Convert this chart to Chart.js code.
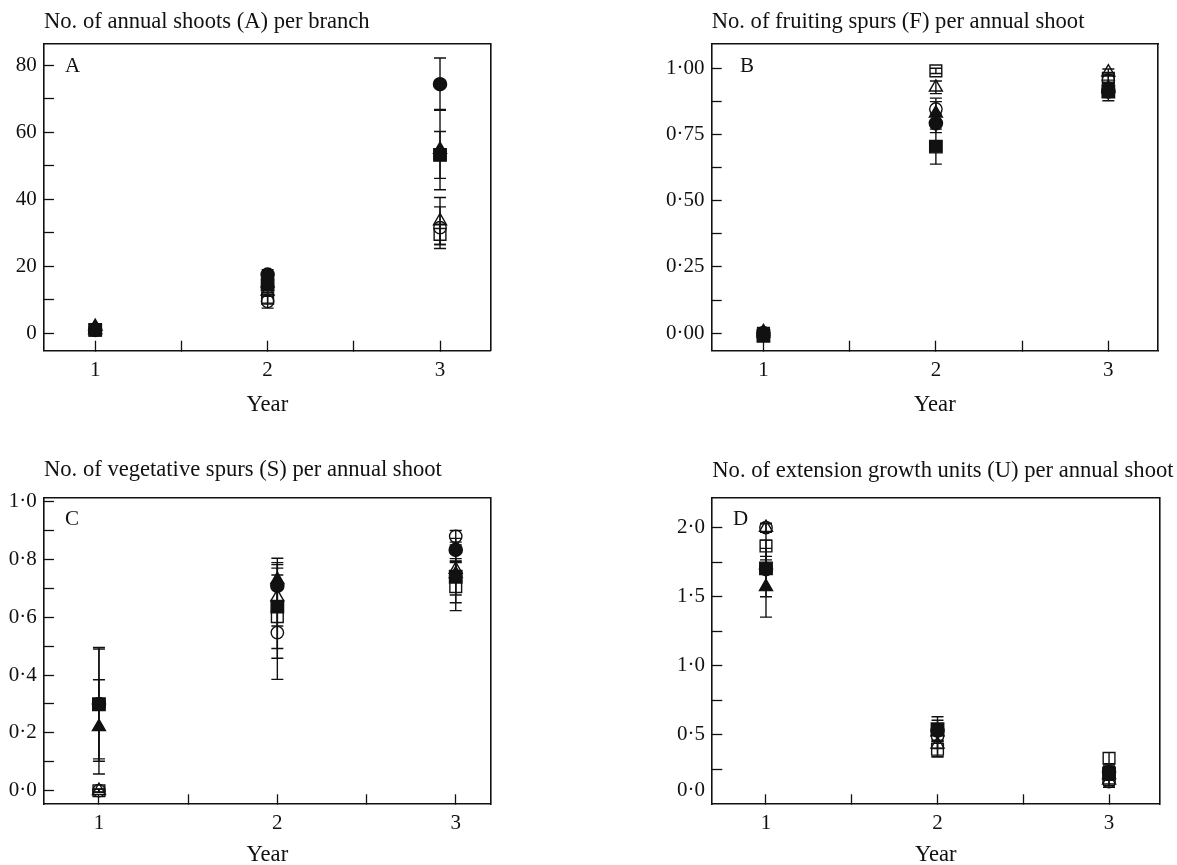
<!DOCTYPE html>
<html>
<head>
<meta charset="utf-8">
<script src="https://cdn.jsdelivr.net/npm/chart.js@4.4.1/dist/chart.umd.min.js"></script>
<style>
  html, body { margin: 0; padding: 0; background: #fff; overflow: hidden; }
  body { width: 1177px; height: 865px; position: relative; }
  .panel { position: absolute; }
  .letter { position: absolute; font-family: 'Liberation Serif', 'Times New Roman', serif;
            font-size: 21px; line-height: 24px; color: #111; }
</style>
</head>
<body>
<div class="panel" id="panelA"><canvas id="chartA"></canvas></div>
<div class="panel" id="panelB"><canvas id="chartB"></canvas></div>
<div class="panel" id="panelC"><canvas id="chartC"></canvas></div>
<div class="panel" id="panelD"><canvas id="chartD"></canvas></div>
<span class="letter" style="left:65px;top:53px">A</span>
<span class="letter" style="left:740px;top:53px">B</span>
<span class="letter" style="left:65px;top:506px">C</span>
<span class="letter" style="left:733px;top:506px">D</span>
<script>
const years = [1, 2, 3];
const xTicks = [1, 1.5, 2, 2.5, 3];
const xTickLabels = ['1', '', '2', '', '3'];

// rows: open square, open circle, open triangle, filled triangle, filled circle, filled square
const shootsMean = [
  [1, 10.5, 29.5],
  [1, 9.5, 31.5],
  [1, 12.5, 33.5],
  [2, 15, 54.8],
  [1, 17.5, 74.3],
  [1, 14.5, 53.2]
];
const shootsSE = [
  [0.3, 1.5, 3],
  [0.3, 2, 6.2],
  [0.3, 1.5, 7],
  [0.4, 2, 12],
  [0.3, 1.5, 7.8],
  [0.3, 1.5, 7]
];
const yTicksShoots = [0, 10, 20, 30, 40, 50, 60, 70, 80];
const yLabelsShoots = ['0', '', '20', '', '40', '', '60', '', '80'];

const fruitingMean = [
  [0, 0.99, 0.962],
  [0, 0.846, 0.955],
  [0, 0.928, 0.985],
  [0.005, 0.83, 0.925],
  [0, 0.792, 0.912],
  [-0.01, 0.704, 0.912]
];
const fruitingSE = [
  [0.005, 0.01, 0.02],
  [0.005, 0.041, 0.02],
  [0.005, 0.024, 0.012],
  [0.005, 0.044, 0.03],
  [0.005, 0.035, 0.035],
  [0.005, 0.066, 0.02]
];
const yTicksFruiting = [0, 0.125, 0.25, 0.375, 0.5, 0.625, 0.75, 0.875, 1];
const yLabelsFruiting = ['0·00', '', '0·25', '', '0·50', '', '0·75', '', '1·00'];

const vegetativeMean = [
  [0, 0.602, 0.706],
  [0, 0.547, 0.88],
  [0, 0.67, 0.765],
  [0.221, 0.73, 0.75],
  [0.3, 0.709, 0.833],
  [0.299, 0.637, 0.74]
];
const vegetativeSE = [
  [0.005, 0.144, 0.083],
  [0.005, 0.162, 0.02],
  [0.005, 0.1, 0.03],
  [0.163, 0.074, 0.1],
  [0.19, 0.08, 0.04],
  [0.197, 0.145, 0.063]
];
const yTicksVegetative = [0, 0.1, 0.2, 0.3, 0.4, 0.5, 0.6, 0.7, 0.8, 0.9, 1];
const yLabelsVegetative = ['0·0', '', '0·2', '', '0·4', '', '0·6', '', '0·8', '', '1·0'];

const unitsMean = [
  [1.867, 0.395, 0.33],
  [2, 0.49, 0.16],
  [2, 0.43, 0.17],
  [1.572, 0.52, 0.21],
  [1.7, 0.53, 0.23],
  [1.705, 0.54, 0.22]
];
const unitsSE = [
  [0.1, 0.055, 0.04],
  [0.03, 0.09, 0.04],
  [0.03, 0.09, 0.04],
  [0.22, 0.06, 0.04],
  [0.15, 0.075, 0.05],
  [0.205, 0.09, 0.05]
];
// the "0·0" label sits a little above the axis floor in the original, without a tick mark
const yTicksUnits = [0.094, 0.25, 0.5, 0.75, 1, 1.25, 1.5, 1.75, 2];
const yLabelsUnits = ['0·0', '', '0·5', '', '1·0', '', '1·5', '', '2·0'];
const yUnmarkedUnits = [0.094];

const INK = '#111';
const SERIF = "'Liberation Serif', 'Times New Roman', serif";
const TICK = 10;
const TITLE_SIZE = 22.6, TICK_SIZE = 21, AXIS_SIZE = 22.6;
const Y_LABEL_GAP = 7.3;

const markerStyles = [
  { pointStyle: 'rect', radius: 8.3, filled: false },
  { pointStyle: 'circle', radius: 6.2, filled: false },
  { pointStyle: 'triangle', radius: 7.5, filled: false },
  { pointStyle: 'triangle', radius: 7.5, filled: true },
  { pointStyle: 'circle', radius: 6.6, filled: true },
  { pointStyle: 'rect', radius: 8.8, filled: true }
];

const measureCtx = document.createElement('canvas').getContext('2d');
function widestLabel(labels) {
  measureCtx.font = TICK_SIZE + 'px ' + SERIF;
  return Math.max(...labels.map(l => measureCtx.measureText(l).width));
}

function buildDatasets(mean, se) {
  const datasets = [];
  // error bars first so the markers sit on top
  mean.forEach((m, s) => {
    const pts = [];
    years.forEach((yr, i) => {
      pts.push({ x: yr, y: m[i] - se[s][i] }, { x: yr, y: m[i] + se[s][i] }, { x: yr, y: null });
    });
    datasets.push({
      data: pts, showLine: true, spanGaps: false,
      borderColor: INK, borderWidth: 1.4,
      pointStyle: 'line', pointRadius: 6, pointBorderColor: INK, pointBorderWidth: 1.4
    });
  });
  mean.forEach((m, s) => {
    const st = markerStyles[s];
    datasets.push({
      data: years.map((yr, i) => ({ x: yr, y: m[i] })),
      showLine: false,
      pointStyle: st.pointStyle, pointRadius: st.radius,
      pointBackgroundColor: st.filled ? INK : 'rgba(0,0,0,0)',
      pointBorderColor: INK, pointBorderWidth: 1.4
    });
  });
  // chart.js paints lower order last, so later entries end up on top
  datasets.forEach((d, i) => { d.order = datasets.length - i; });
  return datasets;
}

function makePanel(cfg) {
  const b = cfg.box;
  const div = document.getElementById(cfg.div);
  div.style.left = b.divLeft + 'px';
  div.style.top = b.divTop + 'px';
  const canvas = document.getElementById(cfg.canvas);
  canvas.width = b.divW;
  canvas.height = b.divH;

  const lhTitle = TITLE_SIZE * 1.2, lhTick = TICK_SIZE * 1.2, lhAxis = AXIS_SIZE * 1.2;
  const titleTop = cfg.titleY - b.divTop - lhTitle / 2;
  const titleBottom = (b.top - b.divTop) - lhTitle - titleTop;
  const xHeight = b.divTop + b.divH - b.bottom;
  const xPad = cfg.xLabelY - b.bottom - lhTick / 2 + TICK;
  const yearPad = b.divTop + b.divH - cfg.yearY - lhAxis / 2;
  const unmarked = cfg.yUnmarked || [];
  // right-hand frame axis soaks up the spare room so the full-width title can run past the frame
  const room = b.divLeft + b.divW - b.right;
  const rightAxisW = Math.min(room, 30);
  // y axis has zero width (title starts at the frame), labels are mirrored back out to the left
  const yPad = -Y_LABEL_GAP - widestLabel(cfg.yLabels);

  return new Chart(canvas, {
    type: 'scatter',
    data: { datasets: buildDatasets(cfg.mean, cfg.se) },
    options: {
      responsive: false,
      animation: false,
      events: [],
      layout: { padding: { left: b.left - b.divLeft, top: 0, bottom: 0, right: room - rightAxisW } },
      plugins: {
        legend: { display: false },
        tooltip: { enabled: false },
        title: {
          display: true, text: cfg.title, align: 'start', fullSize: true, color: INK,
          font: { family: SERIF, size: TITLE_SIZE, weight: 'normal' },
          padding: { top: titleTop, bottom: titleBottom }
        }
      },
      scales: {
        x: {
          type: 'linear', position: 'bottom', min: cfg.xMin, max: cfg.xMax,
          afterBuildTicks: s => { s.ticks = xTicks.map(v => ({ value: v })); },
          afterFit: s => { s.height = xHeight; },
          ticks: {
            autoSkip: false, maxRotation: 0, padding: xPad, color: INK,
            font: { family: SERIF, size: TICK_SIZE },
            callback: (v, i) => xTickLabels[i]
          },
          grid: { drawOnChartArea: false, tickLength: -TICK, tickWidth: 1.3, tickColor: INK },
          border: { color: INK, width: 1.6 },
          title: {
            display: true, text: 'Year', color: INK,
            font: { family: SERIF, size: AXIS_SIZE },
            padding: { top: 0, bottom: yearPad }
          }
        },
        y: {
          type: 'linear', position: 'left', min: cfg.yMin, max: cfg.yMax,
          afterBuildTicks: s => { s.ticks = cfg.yTicks.map(v => ({ value: v })); },
          afterFit: s => { s.width = 0; },
          ticks: {
            autoSkip: false, mirror: true, crossAlign: 'far', padding: yPad, color: INK,
            font: { family: SERIF, size: TICK_SIZE },
            callback: (v, i) => cfg.yLabels[i]
          },
          grid: {
            drawOnChartArea: false, tickLength: -TICK, tickWidth: 1.3,
            tickColor: ctx => (ctx.tick && unmarked.includes(ctx.tick.value)) ? 'rgba(0,0,0,0)' : INK
          },
          border: { color: INK, width: 1.6 }
        },
        x2: {
          type: 'linear', position: 'top',
          afterFit: s => { s.height = 0; },
          ticks: { display: false },
          grid: { drawOnChartArea: false, drawTicks: false },
          border: { color: INK, width: 1.6 }
        },
        y2: {
          type: 'linear', position: 'right',
          afterFit: s => { s.width = rightAxisW; },
          ticks: { display: false },
          grid: { drawOnChartArea: false, drawTicks: false },
          border: { color: INK, width: 1.6 }
        }
      }
    }
  });
}

makePanel({
  div: 'panelA', canvas: 'chartA',
  title: 'No. of annual shoots (A) per branch',
  mean: shootsMean, se: shootsSE,
  yTicks: yTicksShoots, yLabels: yLabelsShoots,
  xMin: 0.703, xMax: 3.294, yMin: -5.2, yMax: 86.5,
  box: { divLeft: 0, divTop: 0, divW: 580, divH: 432, left: 44, top: 43.3, right: 490.7, bottom: 350.7 },
  titleY: 22.2, xLabelY: 370, yearY: 405
});

makePanel({
  div: 'panelB', canvas: 'chartB',
  title: 'No. of fruiting spurs (F) per annual shoot',
  mean: fruitingMean, se: fruitingSE,
  yTicks: yTicksFruiting, yLabels: yLabelsFruiting,
  xMin: 0.70, xMax: 3.288, yMin: -0.066, yMax: 1.094,
  box: { divLeft: 640, divTop: 0, divW: 537, divH: 432, left: 711.7, top: 43.3, right: 1158, bottom: 350.7 },
  titleY: 22.2, xLabelY: 370, yearY: 405
});

makePanel({
  div: 'panelC', canvas: 'chartC',
  title: 'No. of vegetative spurs (S) per annual shoot',
  mean: vegetativeMean, se: vegetativeSE,
  yTicks: yTicksVegetative, yLabels: yLabelsVegetative,
  xMin: 0.692, xMax: 3.196, yMin: -0.047, yMax: 1.015,
  box: { divLeft: 0, divTop: 440, divW: 580, divH: 445, left: 44, top: 497.3, right: 490.7, bottom: 804.3 },
  titleY: 470.3, xLabelY: 823.3, yearY: 855
});

makePanel({
  div: 'panelD', canvas: 'chartD',
  title: 'No. of extension growth units (U) per annual shoot',
  mean: unitsMean, se: unitsSE,
  yTicks: yTicksUnits, yLabels: yLabelsUnits, yUnmarked: yUnmarkedUnits,
  xMin: 0.687, xMax: 3.293, yMin: -0.004, yMax: 2.22,
  box: { divLeft: 640, divTop: 440, divW: 537, divH: 445, left: 712.3, top: 497.3, right: 1159.3, bottom: 804.3 },
  titleY: 470.8, xLabelY: 823.3, yearY: 855
});
</script>
</body>
</html>
